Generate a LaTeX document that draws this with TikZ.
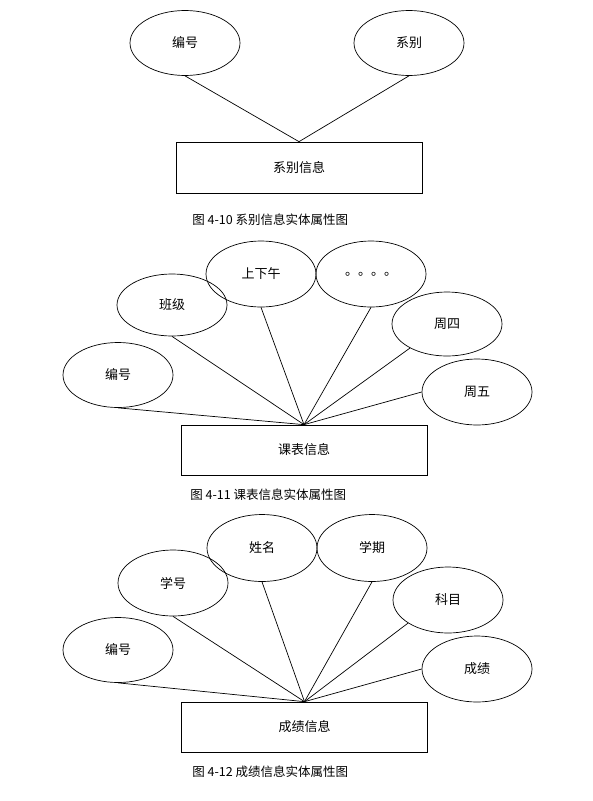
\documentclass[tikz,border=0pt]{standalone}
\usepackage{fontspec}
\setmainfont{Noto Sans CJK SC}
\usetikzlibrary{shapes.geometric}

\begin{document}
\begin{tikzpicture}[
    x=1pt, y=-1pt,
    line width=0.7pt,
    attr/.style={ellipse, draw, minimum width=110pt, minimum height=65pt, inner sep=0pt, font=\fontsize{13}{15}\selectfont},
    entity/.style={rectangle, draw, minimum width=246pt, minimum height=51pt, font=\fontsize{13}{15}\selectfont},
    figcap/.style={anchor=west, inner sep=0pt, font=\fontsize{12.5}{15}\selectfont}
  ]
    \useasboundingbox (0,0) rectangle (593,801);

    % 4-10
    \node[attr] (a1) at (185,43) {编号};
    \node[attr] (a2) at (409,43) {系别};
    \node[entity] (e1) at (299,167.5) {系别信息};
    \node[figcap] (c1) at (192,220) {图 4-10 系别信息实体属性图};
    \foreach \i in {a1,a2}
      \draw (\i.south) -- (e1.north);

    % 4-11
    \node[attr] (b1) at (118,375) {编号};
    \node[attr, minimum height=62pt] (b2) at (172,305) {班级};
    \node[attr, minimum height=66pt] (b3) at (261,274) {上下午};
    \node[attr, minimum height=66pt] (b4) at (371,274) {。。。。};
    \node[attr, minimum height=64pt] (b5) at (447,324) {周四};
    \node[attr, minimum height=66pt] (b6) at (477,392) {周五};
    \node[entity, minimum height=50pt] (e2) at (304,450) {课表信息};
    \node[figcap] (c2) at (190,495) {图 4-11 课表信息实体属性图};
    \foreach \i in {b1.south,b2.south,b3.south,b4.south,b5.213,b6.west}
      \draw (\i) -- (e2.north);

    % 4-12
    \node[attr] (d1) at (118,650) {编号};
    \node[attr, minimum height=66pt] (d2) at (173,583) {学号};
    \node[attr, minimum height=67pt] (d3) at (262,548) {姓名};
    \node[attr, minimum height=67pt] (d4) at (372,548) {学期};
    \node[attr, minimum height=66pt] (d5) at (448,600) {科目};
    \node[attr, minimum height=66pt] (d6) at (477,669) {成绩};
    \node[entity, minimum height=50pt] (e3) at (304.5,727) {成绩信息};
    \node[figcap] (c3) at (192,772) {图 4-12 成绩信息实体属性图};
    \foreach \i in {d1.south,d2.south,d3.south,d4.south,d5.210,d6.west}
      \draw (\i) -- (e3.north);
  \end{tikzpicture}
\end{document}
